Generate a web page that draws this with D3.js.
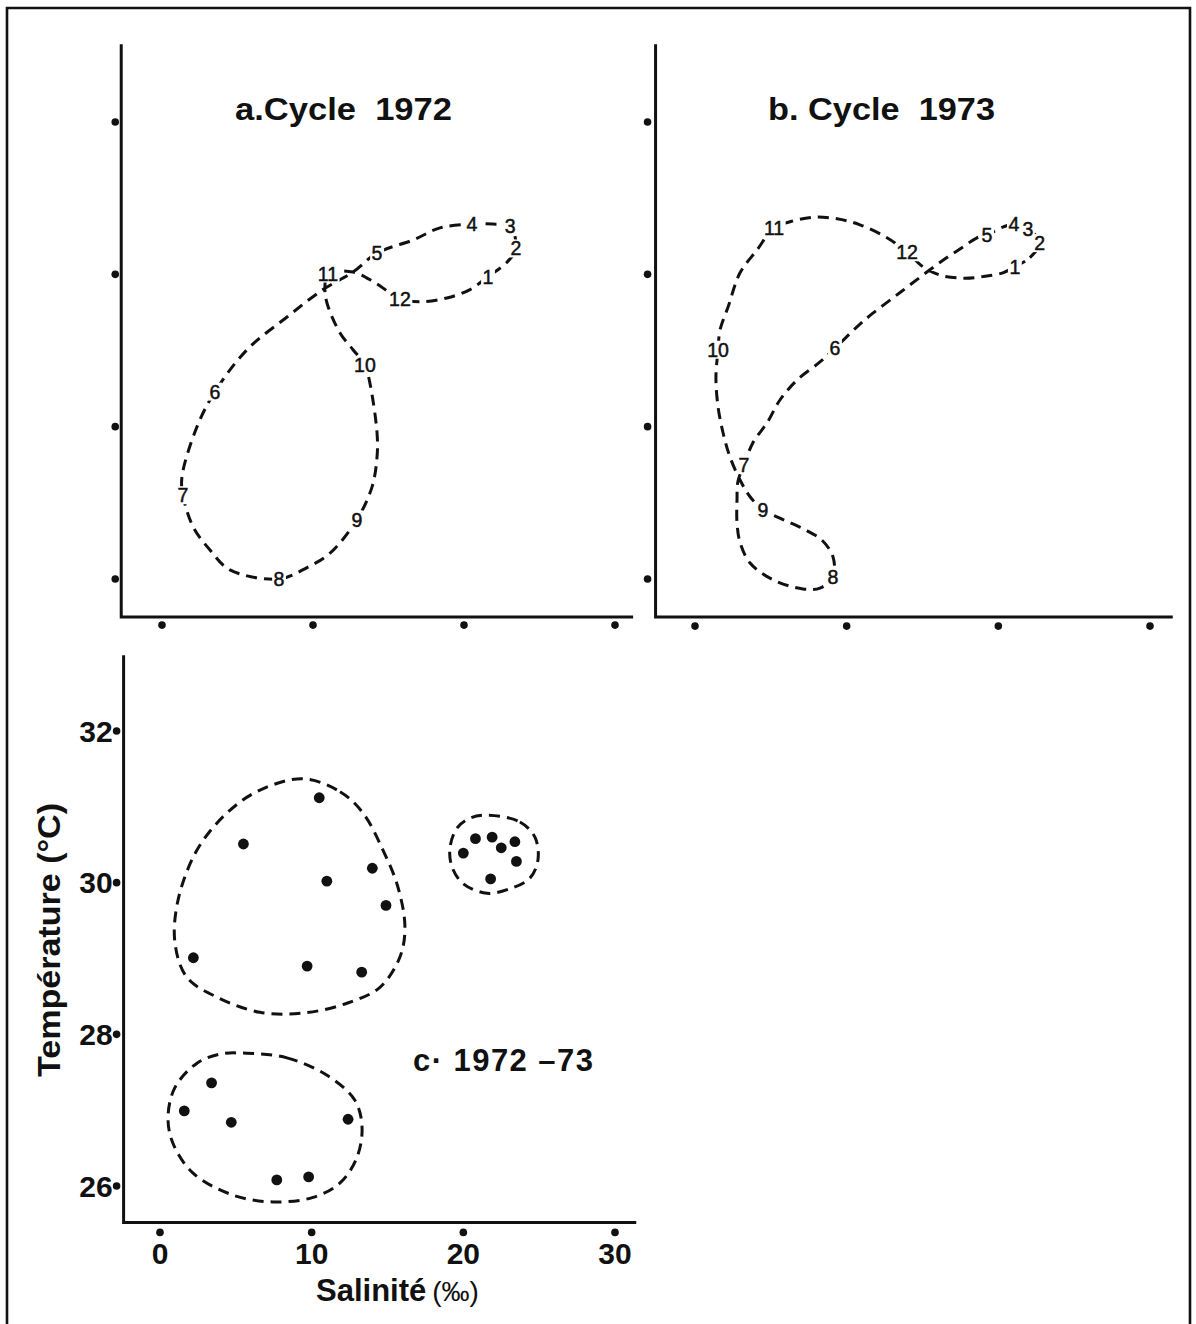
<!DOCTYPE html>
<html><head><meta charset="utf-8">
<script src="https://cdn.jsdelivr.net/npm/d3@7"></script>
<style>body{margin:0;background:#fff} svg{display:block}</style>
</head><body><svg id="chart" width="1196" height="1324"></svg>
<script>
// ---------- DATA ----------
const salTicks = [0, 10, 20, 30];
const tempTicks = [26, 28, 30, 32];
const tempTickLabels = ["26", "28", "30", "32"];
const salTickLabels = ["0", "10", "20", "30"];

// a. Cycle 1972 : dashed T-S path [salinity, temperature, month label]
const cycle1972 = [
  [21.59, 29.97, "1"], [22.85, 30.16, null], [23.44, 30.34, "2"], [23.05, 30.63, "3"],
  [21.92, 30.66, null], [20.53, 30.66, "4"], [18.41, 30.61, null], [16.62, 30.45, null],
  [14.24, 30.28, "5"], [12.65, 30.03, null], [10.66, 29.80, null], [8.28, 29.44, null],
  [5.63, 29.01, null], [3.51, 28.46, "6"], [2.32, 28.00, null], [1.32, 27.34, null],
  [1.39, 27.10, "7"], [2.05, 26.69, null], [3.18, 26.38, null], [4.50, 26.12, null],
  [7.75, 26.00, "8"], [9.60, 26.15, null], [11.13, 26.34, null], [12.91, 26.78, "9"],
  [13.91, 27.21, null], [14.24, 27.60, null], [14.24, 27.92, null], [13.77, 28.57, null],
  [13.44, 28.81, "10"], [12.65, 29.01, null], [11.79, 29.23, null], [10.93, 29.62, null],
  [10.79, 29.82, null], [10.99, 30.01, "11"], [12.65, 30.03, null], [14.11, 29.89, null],
  [15.76, 29.68, "12"], [17.09, 29.64, null], [18.87, 29.69, null], [20.40, 29.80, null]
];

// b. Cycle 1973
const cycle1973 = [
  [21.09, 30.10, "1"], [22.08, 30.22, null], [22.72, 30.41, "2"], [21.95, 30.60, "3"],
  [21.03, 30.66, "4"], [20.30, 30.62, null], [19.25, 30.52, "5"], [18.59, 30.48, null],
  [17.67, 30.36, null], [16.61, 30.22, null], [15.49, 30.06, null], [14.17, 29.86, null],
  [13.05, 29.69, null], [11.73, 29.49, null], [10.68, 29.31, null], [9.23, 29.03, "6"],
  [8.24, 28.85, null], [6.72, 28.61, null], [5.60, 28.35, null], [4.75, 28.05, null],
  [3.82, 27.79, null], [3.23, 27.50, "7"], [2.83, 27.28, null], [2.77, 27.04, null],
  [2.77, 26.74, null], [2.97, 26.48, null], [3.63, 26.21, null], [5.14, 25.99, null],
  [7.12, 25.87, null], [8.24, 25.88, null], [9.10, 26.03, "8"], [9.10, 26.29, null],
  [8.37, 26.51, null], [7.12, 26.66, null], [5.80, 26.78, null], [4.48, 26.91, "9"],
  [3.63, 27.08, null], [2.97, 27.30, null], [2.31, 27.60, null], [1.85, 27.92, null],
  [1.52, 28.26, null], [1.38, 28.65, null], [1.52, 29.01, "10"], [1.65, 29.27, null],
  [2.18, 29.57, null], [2.97, 30.02, null], [4.09, 30.32, null], [5.21, 30.61, "11"],
  [6.26, 30.69, null], [7.78, 30.75, null], [9.36, 30.73, null], [10.88, 30.65, null],
  [12.66, 30.48, null], [13.98, 30.29, "12"], [15.03, 30.10, null], [16.15, 29.99, null],
  [17.67, 29.95, null], [18.99, 29.97, null], [20.30, 30.02, null]
];

// c. 1972-73 : monthly observations [salinity, temperature]
const groupWarmFresh = [
  [10.5, 31.12], [5.5, 30.51], [14.0, 30.19], [11.0, 30.02],
  [14.9, 29.70], [2.2, 29.01], [9.7, 28.90], [13.3, 28.82]
];
const groupSaline = [
  [20.0, 30.39], [20.8, 30.58], [21.9, 30.60], [22.5, 30.46],
  [23.4, 30.54], [23.5, 30.28], [21.8, 30.05]
];
const groupCool = [
  [3.4, 27.36], [1.6, 26.99], [4.7, 26.84], [12.4, 26.88], [7.7, 26.08], [9.8, 26.12]
];
// dashed envelopes drawn around the groups
const envelopeWarmFresh = [
  [9.43, 31.37], [11.87, 31.20], [13.38, 30.92], [14.70, 30.43], [15.69, 29.94],
  [16.15, 29.41], [15.82, 29.02], [14.50, 28.62], [12.33, 28.41], [9.43, 28.28],
  [6.59, 28.29], [3.76, 28.49], [1.78, 28.75], [0.99, 29.20], [1.19, 29.77],
  [2.44, 30.43], [4.42, 30.92], [6.59, 31.22]
];
const envelopeSaline = [
  [21.56, 30.89], [23.73, 30.80], [24.72, 30.60], [24.92, 30.30], [24.39, 30.06],
  [23.07, 29.92], [21.56, 29.86], [19.97, 29.99], [19.25, 30.21], [19.12, 30.46],
  [19.58, 30.72], [20.44, 30.85]
];
const envelopeCool = [
  [5.74, 27.75], [8.37, 27.69], [11.01, 27.46], [12.85, 27.13], [13.32, 26.78],
  [12.99, 26.38], [11.87, 26.04], [10.09, 25.85], [7.45, 25.79], [4.81, 25.88],
  [2.18, 26.17], [0.86, 26.56], [0.53, 26.91], [0.99, 27.30], [2.44, 27.62],
  [3.96, 27.74]
];

// ---------- DRAWING ----------
const svg = d3.select("#chart");
svg.append("rect").attr("width", 1196).attr("height", 1324).attr("fill", "#fff");
const INK = "#111";
const FONT = "'Liberation Sans', Arial, sans-serif";

// outer frame
svg.append("path").attr("d", "M7,1324 V8 H1190 V1324")
  .attr("fill", "none").attr("stroke", INK).attr("stroke-width", 2.6);

const xA = d3.scaleLinear([0, 30], [162, 615]);
const xB = d3.scaleLinear([0, 30], [695, 1150]);
const yAB = d3.scaleLinear([26, 32], [579, 122]);
const xC = d3.scaleLinear([0, 30], [160, 615]);
const yC = d3.scaleLinear([26, 32], [1186, 731]);

function frameAxes(x, y, salMin, salMax, tMin, tMax, dotDx, dotDy) {
  const g = svg.append("g");
  g.append("path")
    .attr("d", `M${x(salMin)},${y(tMax)} V${y(tMin)} H${x(salMax)}`)
    .attr("fill", "none").attr("stroke", INK).attr("stroke-width", 3);
  g.selectAll(".ty").data(tempTicks).join("circle")
    .attr("cx", x(salMin) + dotDx).attr("cy", d => y(d)).attr("r", 3.8).attr("fill", INK);
  g.selectAll(".tx").data(salTicks).join("circle")
    .attr("cx", d => x(d)).attr("cy", y(tMin) + dotDy).attr("r", 3.8).attr("fill", INK);
  return g;
}

function dashedClosed(g, data, x, y) {
  const line = d3.line().x(d => x(d[0])).y(d => y(d[1]))
    .curve(d3.curveCatmullRomClosed.alpha(0.5));
  g.append("path").attr("d", line(data)).attr("fill", "none")
    .attr("stroke", INK).attr("stroke-width", 3).attr("stroke-dasharray", "11 7");
}

function monthLabels(g, data, x, y) {
  const lg = g.append("g");
  const items = data.filter(d => d[2]);
  const bg = lg.append("g");
  const texts = lg.selectAll("text").data(items).join("text")
    .attr("x", d => x(d[0])).attr("y", d => y(d[1]))
    .attr("text-anchor", "middle").attr("dominant-baseline", "central")
    .attr("font-family", FONT).attr("font-size", 19.5).attr("fill", INK)
    .attr("stroke", INK).attr("stroke-width", 0.5)
    .text(d => d[2]);
  texts.each(function () {
    const b = this.getBBox();
    bg.append("rect").attr("x", b.x - 1.5).attr("y", b.y + 2)
      .attr("width", b.width + 3).attr("height", b.height - 4).attr("fill", "#fff");
  });
}

function title(g, txt, x, len) {
  g.append("text").attr("x", x).attr("y", 120)
    .attr("font-family", FONT).attr("font-weight", "bold").attr("font-size", 31).attr("fill", INK)
    .attr("textLength", len).attr("lengthAdjust", "spacingAndGlyphs")
    .style("white-space", "pre")
    .text(txt);
}

// panel a
const gA = frameAxes(xA, yAB, -2.7, 31.2, 25.5, 33.02, -6, 8);
dashedClosed(gA, cycle1972, xA, yAB);
monthLabels(gA, cycle1972, xA, yAB);
title(gA, "a.Cycle  1972", 235, 217);

// panel b
const gB = frameAxes(xB, yAB, -2.6, 31.5, 25.5, 33.02, -8, 9);
dashedClosed(gB, cycle1973, xB, yAB);
monthLabels(gB, cycle1973, xB, yAB);
title(gB, "b. Cycle  1973", 768, 227);

// panel c
const gC = frameAxes(xC, yC, -2.4, 31.4, 25.52, 33.0, -7, 10);
[envelopeWarmFresh, envelopeSaline, envelopeCool].forEach(env => dashedClosed(gC, env, xC, yC));
gC.selectAll(".pt").data([...groupWarmFresh, ...groupSaline, ...groupCool]).join("circle")
  .attr("cx", d => xC(d[0])).attr("cy", d => yC(d[1])).attr("r", 5.4).attr("fill", INK);

gC.selectAll(".yl").data(tempTicks).join("text")
  .attr("x", xC(-2.4) - 11).attr("y", d => yC(d))
  .attr("text-anchor", "end").attr("dominant-baseline", "central")
  .attr("font-family", FONT).attr("font-weight", "bold").attr("font-size", 30).attr("fill", INK)
  .text((d, i) => tempTickLabels[i]);
gC.selectAll(".xl").data(salTicks).join("text")
  .attr("x", d => xC(d)).attr("y", yC(25.52) + 31)
  .attr("text-anchor", "middle").attr("dominant-baseline", "central")
  .attr("font-family", FONT).attr("font-weight", "bold").attr("font-size", 30).attr("fill", INK)
  .text((d, i) => salTickLabels[i]);

const xt = gC.append("text").attr("x", 316).attr("y", 1301)
  .attr("font-family", FONT).attr("fill", INK);
xt.append("tspan").attr("font-weight", "bold").attr("font-size", 31).text("Salinité");
xt.append("tspan").attr("dx", 6).attr("font-size", 28).text("(‰)");

gC.append("text").attr("transform", "translate(60,940) rotate(-90)")
  .attr("text-anchor", "middle").attr("font-family", FONT).attr("font-weight", "bold")
  .attr("font-size", 32).attr("fill", INK)
  .attr("textLength", 274).attr("lengthAdjust", "spacingAndGlyphs")
  .text("Température (°C)");

gC.append("text").attr("x", 413).attr("y", 1071)
  .attr("font-family", FONT).attr("font-weight", "bold").attr("font-size", 31).attr("fill", INK)
  .attr("textLength", 180).attr("lengthAdjust", "spacing")
  .text("c· 1972 –73");
</script></body></html>
